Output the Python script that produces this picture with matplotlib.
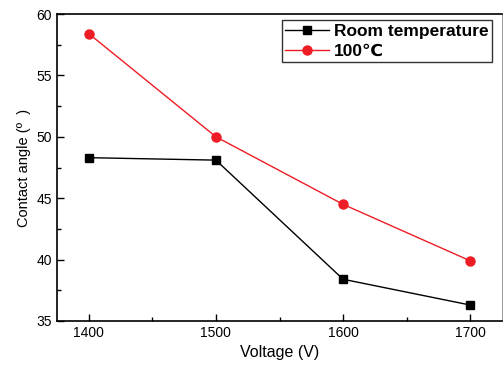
import matplotlib
matplotlib.use("Agg")
import matplotlib.pyplot as plt
from matplotlib.ticker import MultipleLocator

plt.rcParams['font.family'] = ['Liberation Sans', 'DejaVu Sans']

voltage = [1400, 1500, 1600, 1700]
room_temp = [48.3, 48.1, 38.4, 36.3]
hot_100 = [58.4, 50.0, 44.5, 39.9]

fig = plt.figure(figsize=(5.03, 3.67), dpi=100)
ax = fig.add_axes([57/503, 46/367, 445/503, 307/367])

ax.plot(voltage, room_temp, color='black', lw=1, marker='s', ms=5.8, label='Room temperature')
ax.plot(voltage, hot_100, color='#ee1c24', lw=1, marker='o', ms=6.5, label='100\u2103')

ax.set_xlim(1375, 1725)
ax.set_ylim(35, 60)
ax.set_xticks(voltage)
ax.xaxis.set_minor_locator(MultipleLocator(50))
ax.yaxis.set_major_locator(MultipleLocator(5))
ax.yaxis.set_minor_locator(MultipleLocator(2.5))
ax.tick_params(which='both', direction='in', labelsize=10, width=1)
ax.tick_params(which='major', length=5)
ax.tick_params(which='minor', length=3)
for s in ax.spines.values():
    s.set_linewidth(1.2)
ax.spines['right'].set_linewidth(0.6)
ax.spines['right'].set_color('#888888')

ax.set_xlabel('Voltage (V)', fontsize=11.5)
ax.set_ylabel('Contact angle (\u00ba  )', fontsize=10.5)

leg = ax.legend(loc='upper right', bbox_to_anchor=((492 - 57)/445, 1 - 6/307),
                prop={'weight': 'bold', 'size': 12.5}, frameon=True, fancybox=False,
                edgecolor='black', handlelength=2.5, borderpad=0.2, labelspacing=0.3,
                handletextpad=0.3, borderaxespad=0)
leg.get_frame().set_linewidth(1)

fig.savefig('out.png', dpi=100)
